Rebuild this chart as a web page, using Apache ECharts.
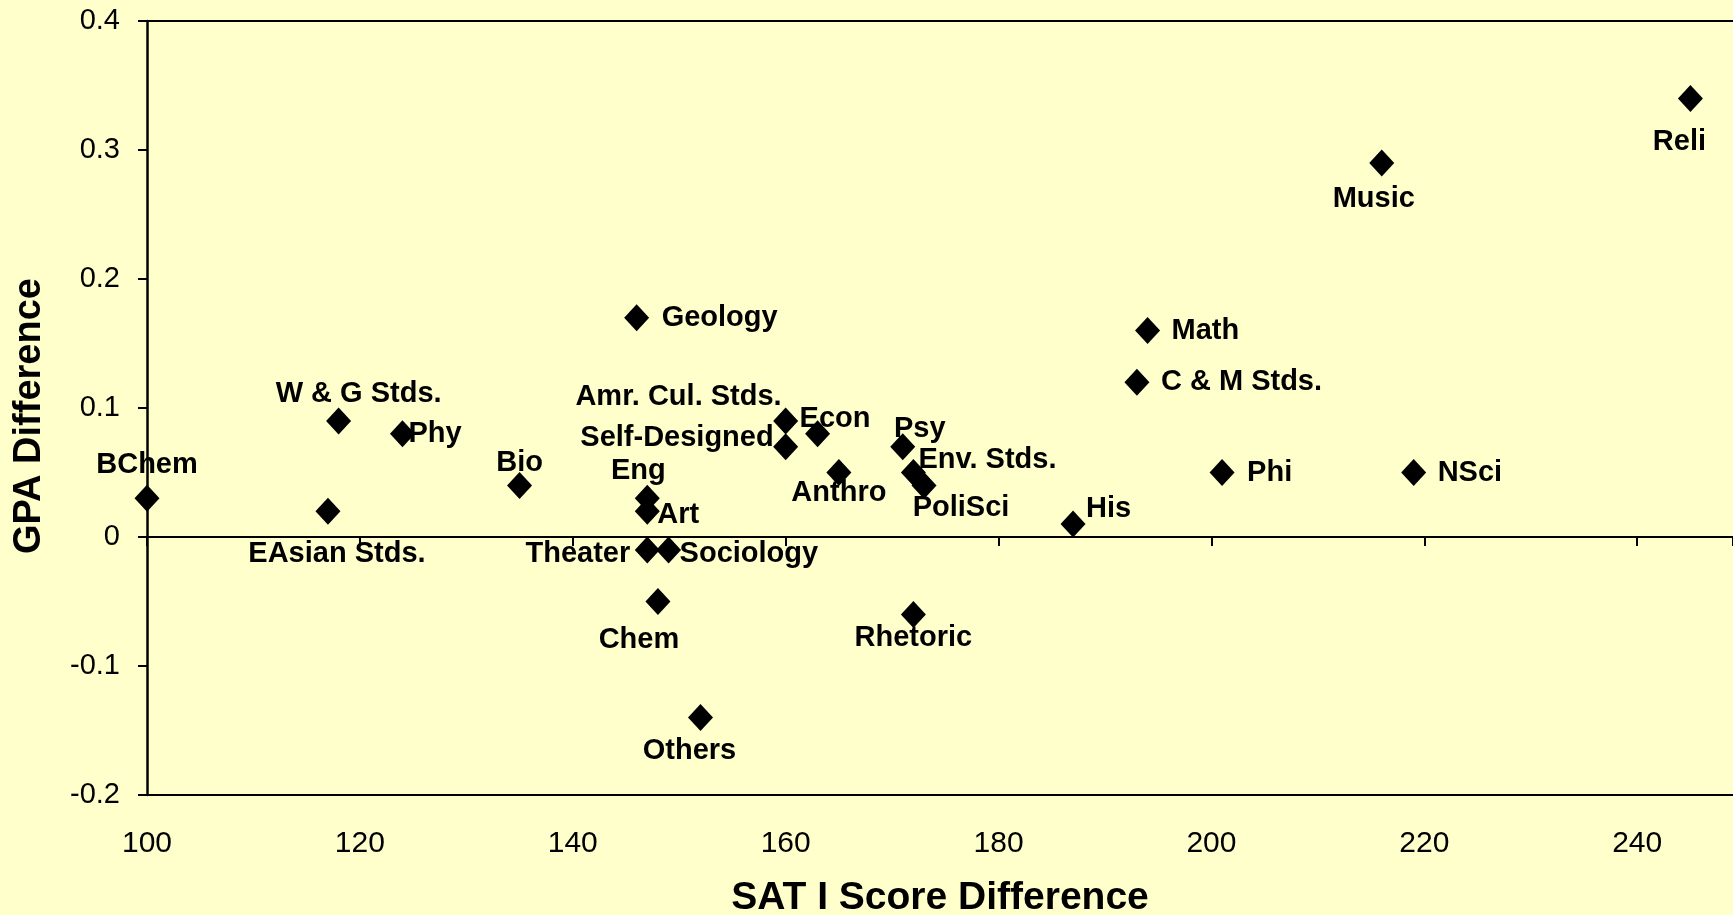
<!DOCTYPE html>
<html>
<head>
<meta charset="utf-8">
<title>GPA vs SAT difference</title>
<script src="https://cdn.jsdelivr.net/npm/echarts@6/dist/echarts.min.js"></script>
<style>
  html, body { margin: 0; padding: 0; background: #FFFFCC; }
  #chart { width: 1733px; height: 915px; }
</style>
</head>
<body>
<div id="chart"></div>
<script>
// majors and their differences
const majors = ['BChem', 'EAsian Stds.', 'W & G Stds.', 'Phy', 'Bio', 'Geology', 'Eng', 'Art',
  'Theater', 'Sociology', 'Chem', 'Others', 'Amr. Cul. Stds.', 'Self-Designed', 'Econ', 'Anthro',
  'Psy', 'Env. Stds.', 'PoliSci', 'Rhetoric', 'His', 'C & M Stds.', 'Math', 'Phi', 'NSci', 'Music', 'Reli']
const satDiff = [100, 117, 118, 124, 135, 146, 147, 147, 147, 149, 148, 152, 160, 160, 163, 165,
  171, 172, 173, 172, 187, 193, 194, 201, 219, 216, 245]
const gpaDiff = [0.03, 0.02, 0.09, 0.08, 0.04, 0.17, 0.03, 0.02, -0.01, -0.01, -0.05, -0.14, 0.09, 0.07, 0.08, 0.05,
  0.07, 0.05, 0.04, -0.06, 0.01, 0.12, 0.16, 0.05, 0.05, 0.29, 0.34]

// where each label sits next to its marker: [align, dx, dy]
const labelPlace = [
  ['center', 0, -33], ['center', 9, 43], ['center', 20, -27], ['left', 6, 0], ['center', 0, -22],
  ['left', 25, 0], ['center', -9, -27], ['left', 10, 4], ['right', -17, 4], ['left', 11, 4],
  ['center', -19, 38], ['center', -11, 33], ['right', -4, -24], ['right', -12, -9], ['left', -18, -15],
  ['center', 0, 20], ['center', 17, -18], ['left', 5, -13], ['center', 37, 23], ['center', 0, 24],
  ['left', 13, -15], ['left', 24, 0], ['left', 24, 0], ['left', 25, 0], ['left', 24, 0],
  ['center', -8, 36], ['center', -11, 44]
]

const font = 'Liberation Sans, Arial, sans-serif'

const points = majors.map((m, i) => ({
  name: m,
  value: [satDiff[i], gpaDiff[i]],
  label: {
    align: labelPlace[i][0],
    offset: [labelPlace[i][1], labelPlace[i][2]]
  }
}))

const xMin = 100, xMax = 249

const myChart = echarts.init(document.getElementById('chart'))
myChart.setOption({
  backgroundColor: '#FFFFCC',
  animation: false,
  grid: { left: 147, top: 21, bottom: 120, right: 0, outerBoundsMode: 'none' },
  xAxis: [
    {
      type: 'value', min: xMin, max: xMax, interval: 20, position: 'bottom',
      name: 'SAT I Score Difference', nameLocation: 'middle', nameGap: 84,
      nameTextStyle: { fontFamily: font, fontWeight: 'bold', fontSize: 39, color: '#000' },
      axisLine: { onZero: false, lineStyle: { color: '#000', width: 2 } },
      axisTick: { show: false },
      axisLabel: { fontFamily: font, fontSize: 30, color: '#000', margin: 34, showMaxLabel: false },
      splitLine: { show: false }
    },
    {
      // the line through GPA 0 with its ticks
      type: 'value', min: xMin, max: xMax, interval: 20, position: 'bottom',
      axisLine: { onZero: true, lineStyle: { color: '#000', width: 2 } },
      axisTick: { show: true, length: 9, lineStyle: { color: '#000', width: 2 } },
      axisLabel: { show: false },
      splitLine: { show: false }
    },
    {
      // top edge of the plot
      type: 'value', min: xMin, max: xMax, position: 'top',
      axisLine: { onZero: false, lineStyle: { color: '#000', width: 2 } },
      axisTick: { show: false },
      axisLabel: { show: false },
      splitLine: { show: false }
    }
  ],
  yAxis: {
    type: 'value', min: -0.2, max: 0.4, interval: 0.1,
    name: 'GPA Difference', nameLocation: 'middle', nameRotate: 90, nameGap: 98,
    nameTextStyle: {
      fontFamily: font, fontWeight: 'bold', fontSize: 38, color: '#000',
      padding: [0, 16, 0, 0]
    },
    axisLine: { show: true, onZero: false, lineStyle: { color: '#000', width: 2.5 } },
    axisTick: { show: true, length: 9, lineStyle: { color: '#000', width: 2 } },
    axisLabel: {
      fontFamily: font, fontSize: 29, color: '#000', margin: 27,
      formatter: v => String(Math.round(v * 10) / 10)
    },
    splitLine: { show: false }
  },
  series: [
    {
      type: 'scatter',
      xAxisIndex: 0,
      symbol: 'diamond',
      symbolSize: [25, 27],
      itemStyle: { color: '#000', opacity: 1 },
      label: {
        show: true,
        position: 'inside',
        formatter: p => p.name,
        fontFamily: font, fontWeight: 'bold', fontSize: 29, color: '#000', opacity: 1
      },
      data: points
    }
  ]
})
</script>
</body>
</html>
